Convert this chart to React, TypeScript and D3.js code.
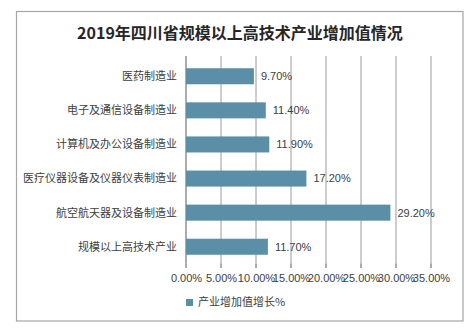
import React from "react";
import * as d3 from "d3";

const categories = [
  "医药制造业",
  "电子及通信设备制造业",
  "计算机及办公设备制造业",
  "医疗仪器设备及仪器仪表制造业",
  "航空航天器及设备制造业",
  "规模以上高技术产业",
];
const values = [9.7, 11.4, 11.9, 17.2, 29.2, 11.7];
const xTicks = [0, 5, 10, 15, 20, 25, 30, 35];
const title = "2019年四川省规模以上高技术产业增加值情况";
const seriesName = "产业增加值增长%";

export default function App() {
  const W = 474, H = 329;
  const x = d3.scaleLinear().domain([0, 35]).range([186, 431]);
  const y = d3.scaleBand<string>().domain(categories).range([59.2, 263.8]).paddingInner(0.53).paddingOuter(0.265);
  const font = "'Noto Sans CJK SC', sans-serif";
  const numFont = "'Liberation Sans', Arial, 'Noto Sans CJK SC', sans-serif";
  const barColor = "#5b8fa7";
  const fmt = (v: number) => v.toFixed(2) + "%";
  return (
    <svg width={W} height={H} style={{ position: "absolute", left: 0, top: 0 }} fontFamily={font}>
      <rect x={0} y={0} width={W} height={H} fill="#fff" />
      <rect x={16.5} y={11.5} width={446.5} height={309.5} fill="#fff" stroke="#a6a6a6" strokeWidth={1.2} />
      <text x={240} y={39} textAnchor="middle" fontSize={16} fontWeight="bold" fill="#262626">{title}</text>
      {xTicks.map((t) => (
        <line key={"g" + t} x1={x(t)} x2={x(t)} y1={56} y2={263.5} stroke={t === 0 ? "#595959" : "#9a9a9a"} strokeWidth={1} />
      ))}
      {xTicks.map((t) => (
        <line key={"t" + t} x1={x(t)} x2={x(t)} y1={263.5} y2={268} stroke="#595959" strokeWidth={1} />
      ))}
      {categories.map((c, i) => (
        <g key={c}>
          <rect x={x(0)} y={y(c)!} width={x(values[i]) - x(0)} height={y.bandwidth()} fill={barColor} />
          <text x={x(values[i]) + 7} y={y(c)! + y.bandwidth() / 2} dy="0.35em" fontSize={11} fill="#404040" fontFamily={numFont}>{fmt(values[i])}</text>
          <text x={177} y={y(c)! + y.bandwidth() / 2} dy="0.35em" fontSize={11} textAnchor="end" fill="#404040">{c}</text>
        </g>
      ))}
      {xTicks.map((t) => (
        <text key={"l" + t} x={x(t) + 0.5} y={278} dy="0.35em" fontSize={11} textAnchor="middle" fill="#404040" fontFamily={numFont}>{fmt(t)}</text>
      ))}
      <rect x={186} y={299} width={7} height={7} fill={barColor} />
      <text x={198} y={302.5} dy="0.35em" fontSize={11} fill="#404040">{seriesName}</text>
    </svg>
  );
}
